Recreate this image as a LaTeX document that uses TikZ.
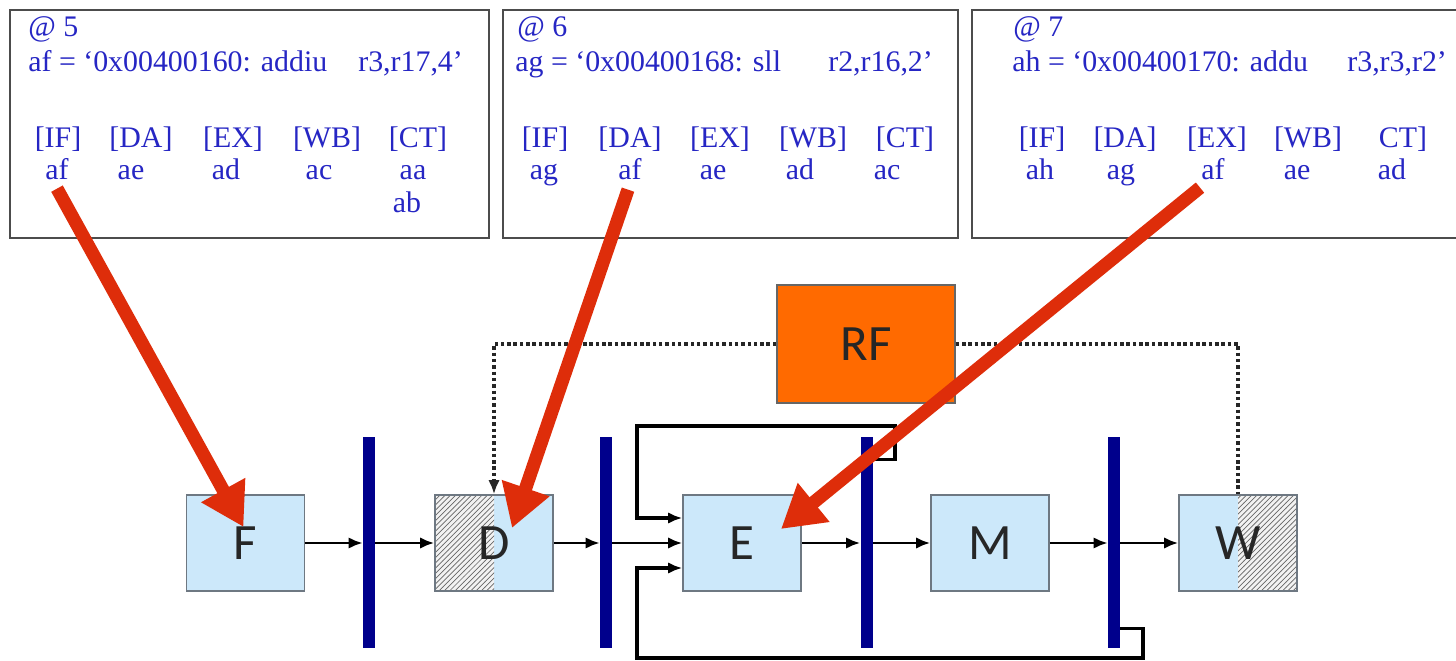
\documentclass[tikz,border=0pt]{standalone}
\usepackage{fontspec}
\setmainfont{Liberation Serif}
\newfontfamily\stagefont{Carlito}
\usetikzlibrary{arrows.meta,calc,patterns}
\definecolor{TraceBlue}{RGB}{38,38,196}
\definecolor{StageFill}{RGB}{204,232,250}
\definecolor{StageGray}{RGB}{110,120,130}
\definecolor{LatchNavy}{RGB}{0,0,140}
\definecolor{RFOrange}{RGB}{255,106,0}
\definecolor{HitRed}{RGB}{222,45,10}

\begin{document}
\begin{tikzpicture}[x=0.02cm, y=-0.02cm,
    trace/.style={text=TraceBlue, font=\fontsize{17}{20}\selectfont, inner sep=0pt, anchor=base},
    panel/.style={draw=black!70, line width=1.2pt},
    stage/.style={draw=StageGray, line width=0.9pt, fill=StageFill, text=black!85,
        font=\stagefont\fontsize{29}{32}\selectfont, minimum width=2.36cm, minimum height=1.92cm, inner sep=0pt},
    latch/.style={fill=LatchNavy, minimum width=0.24cm, minimum height=4.22cm, inner sep=0pt},
    flow/.style={line width=1.5pt, -{Latex[length=8pt,width=6.5pt]}},
    bypass/.style={line width=2pt, -{Latex[length=8pt,width=6.5pt]}},
    rfline/.style={line width=2.2pt, black!85, dash pattern=on 2pt off 1.6pt},
    hit/.style={draw=HitRed, line width=7.5pt, -{Triangle[length=24pt,width=27pt]}},
    hatchleft/.style={path picture={
        \fill[gray!10] (path picture bounding box.north west) rectangle (path picture bounding box.south);
        \fill[pattern=north east lines, pattern color=black!60] (path picture bounding box.north west) rectangle (path picture bounding box.south);}},
    hatchright/.style={path picture={
        \fill[gray!10] (path picture bounding box.north) rectangle (path picture bounding box.south east);
        \fill[pattern=north east lines, pattern color=black!60] (path picture bounding box.north) rectangle (path picture bounding box.south east);}}]
    \path[use as bounding box, fill=white] (0,0) rectangle (1456,661);
    % Trace panels of cycles 5, 6 and 7
    \draw[panel] (10,10) rectangle (489,238);
    \draw[panel] (503,10) rectangle (958,238);
    \draw[panel] (972,10) rectangle (1470,238);
    % Cycle 5
    \node[trace, anchor=base west] (at5) at (28,37) {@ 5};
    \node[trace, anchor=base west] (in5) at (28,72) {af = `0x00400160: addiu};
    \node[trace, anchor=base west] (op5) at (358,72) {r3,r17,4'};
    \foreach \x/\t in {58/{[IF]},141/{[DA]},233/{[EX]},327/{[WB]},418/{[CT]}}
        \node[trace] (h5-\x) at (\x,148) {\t};
    \foreach \x/\t in {57/af,131/ae,226/ad,319/ac,413/aa}
        \node[trace] (c5\t) at (\x,180) {\t};
    \node[trace] (c5ab) at (407,213) {ab};
    % Cycle 6
    \node[trace, anchor=base west] (at6) at (517,37) {@ 6};
    \node[trace, anchor=base west] (in6) at (515,72) {ag = `0x00400168: sll};
    \node[trace, anchor=base west] (op6) at (828,72) {r2,r16,2'};
    \foreach \x/\t in {545/{[IF]},630/{[DA]},720/{[EX]},813/{[WB]},905/{[CT]}}
        \node[trace] (h6-\x) at (\x,148) {\t};
    \foreach \x/\t in {544/ag,630/af,713/ae,800/ad,887/ac}
        \node[trace] (c6\t) at (\x,180) {\t};
    % Cycle 7
    \node[trace, anchor=base west] (at7) at (1013,37) {@ 7};
    \node[trace, anchor=base west] (in7) at (1012,72) {ah = `0x00400170: addu};
    \node[trace, anchor=base west] (op7) at (1347,72) {r3,r3,r2'};
    \foreach \x/\t in {1042/{[IF]},1125/{[DA]},1217/{[EX]},1308/{[WB]},1403/{CT]}}
        \node[trace] (h7-\x) at (\x,148) {\t};
    \foreach \x/\t in {1040/ah,1121/ag,1213/af,1297/ae,1392/ad}
        \node[trace] (c7\t) at (\x,180) {\t};
    % Pipeline stages and latches
    \node[stage] (F) at (245.5,543) {F};
    \node[latch] (L1) at (369,542.5) {};
    \node[stage, hatchleft] (D) at (494,543) {D};
    \node[latch] (L2) at (606,542.5) {};
    \node[stage] (E) at (742,543) {E};
    \node[latch] (L3) at (866.5,542.5) {};
    \node[stage] (M) at (990,543) {M};
    \node[latch] (L4) at (1114,542.5) {};
    \node[stage, hatchright] (W) at (1238,543) {W};
    \node[draw=black!60, line width=0.8pt, fill=RFOrange, minimum width=3.56cm, minimum height=2.36cm,
        font=\stagefont\fontsize{29}{32}\selectfont, text=black!85] (RF) at (866,344) {RF};
    % Main flow
    \draw[flow] (F.east) -- (L1.west |- F.east);
    \draw[flow] (L1.east |- D.west) -- (D.west);
    \draw[flow] (D.east) -- (L2.west |- D.east);
    \draw[flow] (L2.east |- E.west) -- (E.west);
    \draw[flow] (E.east) -- (L3.west |- E.east);
    \draw[flow] (L3.east |- M.west) -- (M.west);
    \draw[flow] (M.east) -- (L4.west |- M.east);
    \draw[flow] (L4.east |- W.west) -- (W.west);
    % Register file read and write
    \draw[rfline, -{Latex[length=8pt,width=6.5pt]}] (RF.west) -| (D.north);
    \draw[rfline] (RF.east) -| (W.north);
    % Bypass paths into E
    \coordinate (upR) at (895,426);
    \coordinate (upL) at (637,426);
    \coordinate (dnR) at (1143,658);
    \coordinate (dnL) at (637,658);
    \draw[bypass] ($(L3.north east)+(0,23)$) -| (upR) -- (upL) |- ($(E.west)+(0,-25)$);
    \draw[bypass] ($(L4.south east)+(0,-20)$) -| (dnR) -- (dnL) |- ($(E.west)+(0,25)$);
    % Instruction af through the stages
    \draw[hit] ($(c5af.south)+(0,8)$) -- ($(F.center)+(-2,-16)$);
    \draw[hit] ($(c6af.south)+(-2,9)$) -- ($(D.center)+(18,-15)$);
    \draw[hit] ($(c7af.south)+(-13,7)$) -- ($(E.center)+(39,-14)$);
\end{tikzpicture}
\end{document}
